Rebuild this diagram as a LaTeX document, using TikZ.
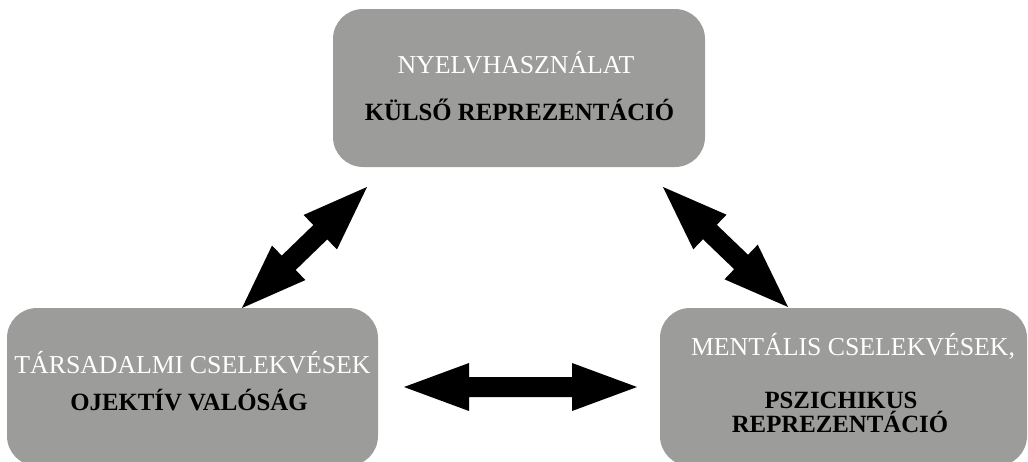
\documentclass[tikz,border=0pt]{standalone}
\usepackage{fontspec}
\setmainfont{Liberation Serif}
\usetikzlibrary{calc}
\definecolor{boxgray}{RGB}{156,156,154}
\tikzset{
  panel/.style={fill=boxgray, rounded corners=30pt, inner sep=0pt, draw=none},
  upper/.style={text=white, font=\fontsize{25.8}{26}\selectfont, anchor=base, inner sep=0pt},
  lower/.style={text=black, font=\fontsize{24.8}{25}\selectfont\bfseries, anchor=base, inner sep=0pt},
}
% double-headed block arrow between two named points
\newcommand\twowayarrow[2]{%
  \fill (#1)
    -- ($(#1)!65pt!(#2)!24pt!90:(#2)$)
    -- ($(#1)!65pt!(#2)!10pt!90:(#2)$)
    -- ($(#2)!65pt!(#1)!10pt!-90:(#1)$)
    -- ($(#2)!65pt!(#1)!24pt!-90:(#1)$)
    -- (#2)
    -- ($(#2)!65pt!(#1)!24pt!90:(#1)$)
    -- ($(#2)!65pt!(#1)!10pt!90:(#1)$)
    -- ($(#1)!65pt!(#2)!10pt!-90:(#2)$)
    -- ($(#1)!65pt!(#2)!24pt!-90:(#2)$)
    -- cycle;
}
\begin{document}
\begin{tikzpicture}[x=1pt, y=-1pt]
  \useasboundingbox (0,0) rectangle (1028,461);

  % panels
  \path[panel] (333,9) rectangle (705,167);
  \node (top) at (519,88) {};
  \path[panel] (7,308) rectangle (378,466);
  \node (left) at (192.5,387) {};
  \path[panel] (660,308) rectangle (1027,466);
  \node (right) at (843.5,387) {};

  % texts
  \node[upper] (t1) at (516,73) {NYELVHASZNÁLAT};
  \node[lower] (t2) at (519.5,120) {KÜLSŐ REPREZENTÁCIÓ};
  \node[upper] (l1) at (192.5,373) {TÁRSADALMI CSELEKVÉSEK};
  \node[lower] (l2) at (189,410) {OJEKTÍV VALÓSÁG};
  \node[upper] (r1) at (853,355) {MENTÁLIS CSELEKVÉSEK,};
  \node[lower] (r2) at (841,408) {PSZICHIKUS};
  \node[lower] (r3) at (840,432) {REPREZENTÁCIÓ};

  % arrow ends
  \coordinate (a1s) at (242,308);
  \coordinate (a1e) at (367,187);
  \coordinate (a2s) at (663,187);
  \coordinate (a2e) at (788,307);
  \coordinate (a3s) at (404,387);
  \coordinate (a3e) at (637,387);

  \twowayarrow{a1s}{a1e}
  \twowayarrow{a2s}{a2e}
  \twowayarrow{a3s}{a3e}
\end{tikzpicture}
\end{document}
